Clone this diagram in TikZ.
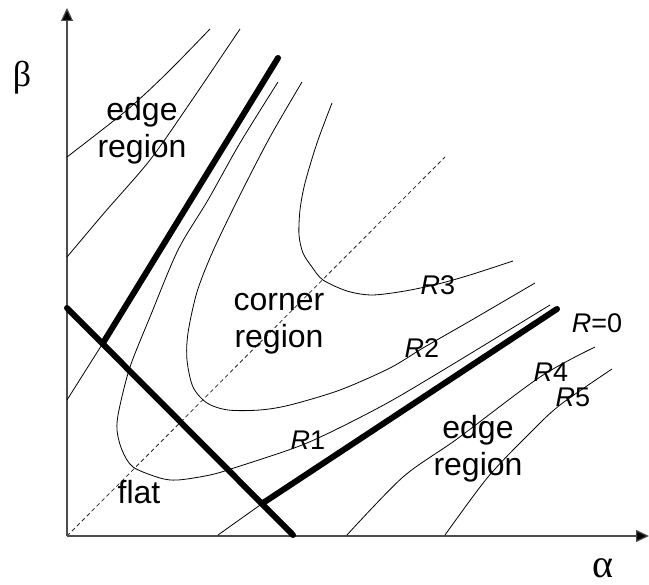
\documentclass[tikz,border=0pt]{standalone}
\usepackage{fontspec}
\setmainfont{Liberation Sans}
\newfontfamily\greekfont{Liberation Serif}
\usetikzlibrary{arrows.meta}
\tikzset{
  cont/.style={line width=0.8pt},
  bnd/.style={line width=6pt,line cap=round},
  reg/.style={align=center,inner sep=0pt,font=\fontsize{32}{37}\selectfont},
  rlab/.style={inner sep=0pt,font=\fontsize{27}{29}\selectfont},
}
\begin{document}
\begin{tikzpicture}[x=1pt,y=-1pt,
  ax/.style={line width=1.2pt,draw=black!70,-{Triangle[length=13pt,width=12pt,fill=black]}},
  diag/.style={line width=0.8pt,draw=black!85,dash pattern=on 4pt off 3pt}]
  \useasboundingbox (0,0) rectangle (649,585);
  % axes
  \coordinate (O) at (67,536);
  \coordinate (ytop) at (67,8);
  \coordinate (xend) at (649,536);
  \coordinate (dtop) at (445,157);
  \draw[diag] (O) -- (dtop);
  \draw[ax] (O) -- (ytop);
  \draw[ax] (O) -- (xend);
  \node[font=\greekfont\fontsize{36}{38}\selectfont] (beta) at (22,78) {β};
  \node[font=\greekfont\fontsize{40}{42}\selectfont] (alpha) at (603,568) {α};
  % contours, upper edge side
  \draw[cont] plot[smooth] coordinates {(67,157) (127,110) (167,73) (210,29)};
  \draw[cont] plot[smooth] coordinates {(67,257) (105,212) (150,160) (190,103) (240,29)};
  % R=0 boundary and its thin ends
  \coordinate (e1a) at (103,343); \coordinate (e1b) at (278,58);
  \coordinate (e2a) at (263,503); \coordinate (e2b) at (557,309);
  \coordinate (f1) at (67,308);   \coordinate (f2) at (293,535);
  \coordinate (t1) at (67,400);   \coordinate (t2) at (218,535);
  \draw[cont] (t1) -- (e1a);
  \draw[cont] (t2) -- (e2a);
  \draw[bnd] (e1a) -- (e1b);
  \draw[bnd] (e2a) -- (e2b);
  \draw[bnd] (f1) -- (f2);
  % corner contours
  \draw[cont] plot[smooth] coordinates {(278,82) (240,143) (208,200) (178,250) (150,317) (130,367)
    (119,410) (117,430) (122,450) (133,467) (160,478) (178,480) (210,475) (237,467) (307,443)
    (380,407) (440,372) (550,305)};
  \draw[cont] plot[smooth] coordinates {(302,82) (270,137) (240,195) (213,251) (197,292) (188,333)
    (187,360) (193,387) (207,403) (228,410) (260,410) (290,405) (340,390) (390,368) (423,348)
    (470,321) (535,283)};
  \draw[cont] plot[smooth] coordinates {(332,103) (317,143) (305,183) (300,210) (299,235) (303,253)
    (312,267) (323,280) (347,291) (372,295) (405,291) (438,284) (470,275) (513,261)};
  % contours, lower edge side
  \draw[cont] plot[smooth] coordinates {(347,535) (403,477) (457,439) (540,377) (595,347)};
  \draw[cont] plot[smooth] coordinates {(445,535) (488,477) (530,433) (560,405) (612,369)};
  % labels
  \node[reg] (edgeup) at (142,131) {edge\\region};
  \node[reg] (corner) at (279,324) {corner\\region};
  \node[reg] (edgelow) at (478,449) {edge\\region};
  \node[reg] (flat) at (139,492) {flat};
  \node[rlab] (r1) at (308,440) {\textit{R}1};
  \node[rlab] (r2) at (422,348) {\textit{R}2};
  \node[rlab] (r3) at (438,285) {\textit{R}3};
  \node[rlab] (r4) at (551,372) {\textit{R}4};
  \node[rlab] (r5) at (573,397) {\textit{R}5};
  \node[rlab] (r0) at (597,323) {\textit{R}=0};
\end{tikzpicture}
\end{document}
